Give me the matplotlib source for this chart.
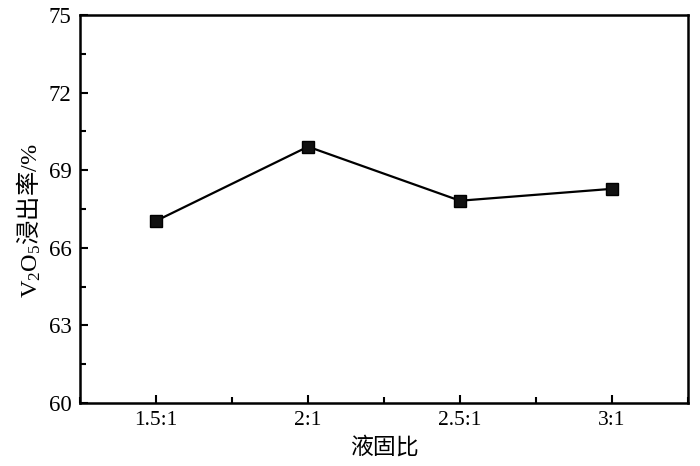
import matplotlib
matplotlib.use('Agg')
from matplotlib import pyplot as plt
from matplotlib.ticker import MultipleLocator

ratios = ['1.5:1', '2:1', '2.5:1', '3:1']
leach_rate = [67.04, 69.91, 67.82, 68.28]

plt.rcParams['font.family'] = ['Liberation Serif', 'Noto Sans CJK SC']
plt.rcParams['mathtext.fontset'] = 'custom'
plt.rcParams['mathtext.rm'] = 'Liberation Serif'

fig = plt.figure(figsize=(7, 4.66), dpi=100)
ax = fig.add_axes([0.1143, 0.1352, 0.8686, 0.8326])

xs = list(range(1, len(ratios) + 1))
ax.plot(xs, leach_rate, color='black', lw=1.6, marker='s', ms=9, mfc='#111111', mec='black')

ax.set_xlim(0.5, 4.5)
ax.set_ylim(60, 75)
ax.set_xticks(xs)
ax.set_xticklabels(ratios)
ax.xaxis.set_minor_locator(MultipleLocator(0.5))
ax.yaxis.set_major_locator(MultipleLocator(3))
ax.yaxis.set_minor_locator(MultipleLocator(1.5))
ax.tick_params(which='both', direction='in', width=1.5, top=False, right=False)
ax.tick_params(which='major', length=6)
ax.tick_params(which='minor', length=4)
ax.tick_params(axis='y', labelsize=16.5, pad=6)
ax.tick_params(axis='x', labelsize=15.5, pad=6)
for s in ax.spines.values():
    s.set_linewidth(1.8)

ax.set_xlabel('液固比', family=['Noto Sans CJK SC'], fontsize=16.5, labelpad=4)
ax.set_ylabel(r'$\mathrm{V_2O_5}$浸出率$\mathrm{/\%}$', family=['Noto Sans CJK SC'], fontsize=17.5, labelpad=4)
ax.yaxis.label.set_y(0.47)

fig.savefig('out.png', dpi=100)
